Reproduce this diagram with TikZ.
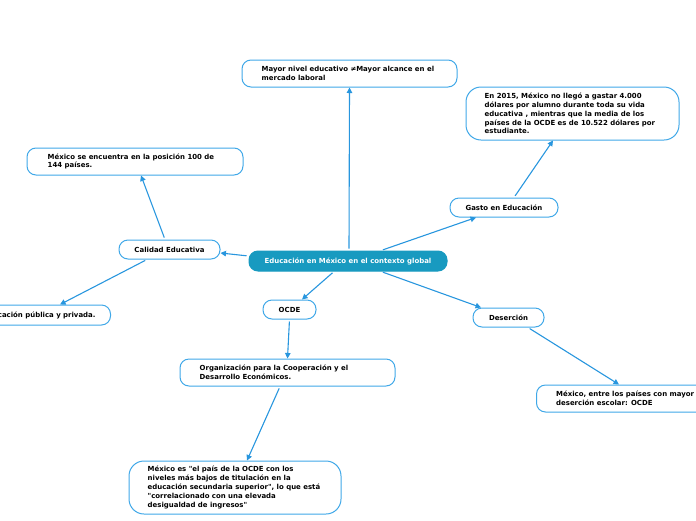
\documentclass[tikz,border=0pt]{standalone}
\usepackage{fontspec}
\setmainfont{DejaVu Sans}[Ligatures=TeXOff]
\usetikzlibrary{arrows.meta}
\definecolor{mapline}{RGB}{64,168,232}
\definecolor{maparrow}{RGB}{40,150,222}
\definecolor{mapcore}{RGB}{24,154,192}
\tikzset{
  topic/.style={draw=mapline, line width=1pt, rounded corners=9pt, fill=white, inner sep=0pt,
    font=\fontsize{6.95}{8.8}\selectfont\bfseries},
  words/.style={anchor=west, align=left, inner sep=0pt, font=\fontsize{6.95}{8.8}\selectfont\bfseries},
  link/.style={draw=maparrow, line width=1.1pt, -{Triangle[length=5.5pt,width=5.5pt]}, shorten <=2pt}
}
\begin{document}
\begin{tikzpicture}[x=1pt,y=-1pt]
    \useasboundingbox (0,0) rectangle (696,520);

    \node[topic, fill=mapcore, draw=mapcore, text=white, minimum width=198, minimum height=20] (core) at (348,261) {Educación en México en el contexto global};

    \node[topic, minimum width=215, minimum height=27] (nivel) at (349.5,73.5) {};
    \node[words] (niveltxt) at ([xshift=20]nivel.west) {Mayor nivel educativo ≠Mayor alcance en el\\mercado laboral};

    \node[topic, minimum width=108, minimum height=19] (gasto) at (504,207.5) {Gasto en Educación};
    \node[topic, rounded corners=15pt, minimum width=213, minimum height=53] (dolares) at (572.5,113.5) {};
    \node[words] (dolarestxt) at ([xshift=19]dolares.west) {En 2015, México no llegó a gastar 4.000\\dólares por alumno durante toda su vida\\educativa , mientras que la media de los\\países de la OCDE es de 10.522 dólares por\\estudiante.};

    \node[topic, minimum width=101, minimum height=19] (calidad) at (169.5,249.5) {Calidad Educativa};
    \node[topic, minimum width=216, minimum height=27] (posicion) at (135,161.5) {};
    \node[words] (posiciontxt) at ([xshift=21]posicion.west) {México se encuentra en la posición 100 de\\144 países.};
    \node[topic, anchor=east, inner xsep=15pt, minimum height=20] (publica) at (111,315) {Educación pública y privada.};

    \node[topic, minimum width=53, minimum height=19] (ocde) at (289.5,309.5) {OCDE};
    \node[topic, minimum width=215, minimum height=27] (organiza) at (287.5,372.5) {};
    \node[words] (organizatxt) at ([xshift=20]organiza.west) {Organización para la Cooperación y el\\Desarrollo Económicos.};
    \node[topic, rounded corners=15pt, minimum width=212, minimum height=53] (titula) at (235,487.5) {};
    \node[words] (titulatxt) at ([xshift=19]titula.west) {México es "el país de la OCDE con los\\niveles más bajos de titulación en la\\educación secundaria superior", lo que está\\"correlacionado con una elevada\\desigualdad de ingresos"};

    \node[topic, minimum width=71, minimum height=19] (desercion) at (508.5,317.5) {Deserción};
    \node[topic, anchor=west, minimum width=190, minimum height=27] (mayor) at (536,398.5) {};
    \node[words] (mayortxt) at ([xshift=20]mayor.west) {México, entre los países con mayor\\deserción escolar: OCDE};

    \draw[link] ([xshift=1]core.north) -- (nivel.south);
    \draw[link] ([xshift=33]core.north) -- ([xshift=-28]gasto.south);
    \draw[link] ([xshift=10]gasto.north) -- ([xshift=-19.5]dolares.south);
    \draw[link] ([yshift=5]core.west) -- ([yshift=-3.5]calidad.east);
    \draw[link] ([xshift=-4.5]calidad.north) -- ([xshift=6]posicion.south);
    \draw[link] ([xshift=-22.5]calidad.south) -- ([xshift=-51]publica.north east);
    \draw[link] ([xshift=-14]core.south) -- ([xshift=12.5]ocde.north);
    \draw[link] (ocde.south) -- (organiza.north);
    \draw[link] ([xshift=-7.5]organiza.south) -- ([xshift=12]titula.north);
    \draw[link] ([xshift=33]core.south) -- ([xshift=-27.5]desercion.north);
    \draw[link] ([xshift=19.5]desercion.south) -- ([xshift=83]mayor.north west);

\end{tikzpicture}
\end{document}
